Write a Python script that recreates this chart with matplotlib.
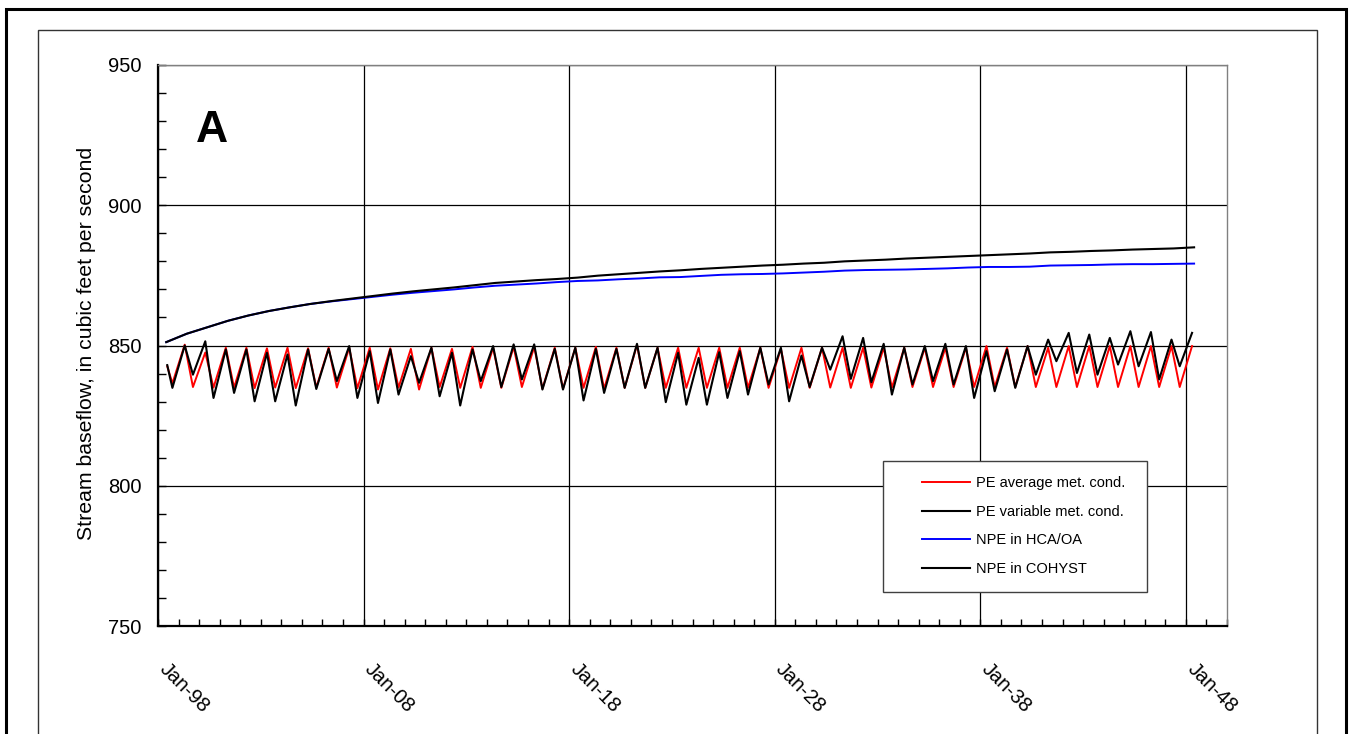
import numpy as np
import matplotlib
matplotlib.use("Agg")
import matplotlib.pyplot as plt
from matplotlib.patches import Rectangle
from matplotlib.ticker import MultipleLocator, FixedLocator
from matplotlib.transforms import ScaledTranslation

plt.rcParams['font.family'] = ['Liberation Sans', 'DejaVu Sans']

# ---- data ----
# pumping-effect series: one low (fall) and one high (spring) value per year
start_year = 1998.45
low_years = np.arange(1998, 2048) + 0.7
high_years = np.arange(1999, 2049) + 0.3

pe_avg_start = 842.6
pe_avg_low = [836.5, 835.2, 835.0, 835.0, 834.8, 835.0, 834.8, 835.0, 835.0, 834.8,
              834.3, 835.0, 834.3, 835.2, 834.9, 834.9, 834.9, 835.2, 834.6, 834.6,
              834.9, 834.6, 834.9, 834.9, 834.9, 834.9, 834.9, 834.9, 834.9, 834.9,
              834.9, 834.9, 835.0, 834.9, 835.0, 835.0, 835.2, 835.2, 835.2, 835.2,
              835.2, 835.2, 835.2, 835.2, 835.2, 835.2, 835.2, 835.2, 835.2, 835.2]
pe_avg_high = [850.3, 847.5, 849.2, 849.2, 849.0, 849.2, 849.0, 849.2, 849.2, 849.2,
               849.0, 848.8, 849.2, 848.8, 849.5, 849.2, 849.5, 849.5, 849.2, 849.2,
               849.5, 849.2, 850.2, 849.2, 849.2, 849.2, 849.2, 849.2, 849.2, 848.8,
               849.2, 849.2, 849.2, 849.2, 849.2, 849.2, 849.2, 849.2, 849.2, 849.8,
               849.2, 849.8, 849.2, 849.8, 849.8, 849.8, 849.8, 849.8, 849.8, 849.8]

pe_var_start = 843.0
pe_var_low = [834.9, 839.6, 831.3, 833.1, 830.1, 830.1, 828.6, 834.5, 837.3, 831.3,
              829.5, 832.5, 836.7, 831.9, 828.6, 837.3, 835.2, 837.9, 834.3, 834.3,
              830.4, 833.1, 834.9, 834.9, 829.8, 828.9, 828.9, 831.3, 832.5, 836.1,
              830.1, 835.2, 841.4, 838.1, 836.9, 832.5, 836.1, 837.3, 836.1, 831.3,
              833.7, 834.9, 839.6, 844.4, 840.2, 839.6, 843.2, 842.6, 837.9, 842.6]
pe_var_high = [850.0, 851.5, 848.6, 848.6, 847.4, 846.8, 848.6, 848.8, 849.8, 848.0,
               848.6, 846.2, 849.2, 847.4, 848.6, 849.8, 850.4, 850.4, 848.8, 849.2,
               848.8, 848.8, 850.6, 849.2, 847.4, 845.6, 847.6, 848.0, 849.2, 849.2,
               846.4, 849.2, 853.3, 852.7, 850.6, 849.2, 849.8, 850.6, 849.8, 848.0,
               848.6, 849.8, 852.1, 854.5, 853.9, 852.7, 855.1, 854.8, 852.1, 854.5]

# no-pumping-effect series, one value per year
npe_years = np.arange(1998, 2049) + 0.4
npe_hca = [851.2, 854.2, 856.5, 858.8, 860.7, 862.3, 863.6, 864.8, 865.7, 866.5,
           867.3, 868.1, 868.8, 869.4, 870.0, 870.7, 871.3, 871.7, 872.1, 872.6,
           873.0, 873.2, 873.6, 873.9, 874.3, 874.4, 874.8, 875.2, 875.4, 875.5,
           875.7, 876.0, 876.3, 876.7, 876.9, 877.0, 877.1, 877.3, 877.5, 877.8,
           878.0, 878.0, 878.1, 878.5, 878.6, 878.7, 878.9, 879.0, 879.0, 879.1,
           879.2]
npe_cohyst = [851.2, 854.2, 856.5, 858.8, 860.7, 862.3, 863.6, 864.8, 865.8, 866.7,
              867.6, 868.5, 869.3, 870.0, 870.7, 871.5, 872.3, 872.8, 873.3, 873.7,
              874.2, 874.9, 875.4, 875.9, 876.4, 876.8, 877.3, 877.7, 878.1, 878.5,
              878.8, 879.2, 879.5, 880.0, 880.3, 880.6, 881.0, 881.3, 881.6, 881.9,
              882.2, 882.5, 882.8, 883.2, 883.4, 883.7, 883.9, 884.2, 884.4, 884.6,
              885.0]

tick_years = [1998, 2008, 2018, 2028, 2038, 2048]
tick_labels = ['Jan-98', 'Jan-08', 'Jan-18', 'Jan-28', 'Jan-38', 'Jan-48']
series_labels = ['PE average met. cond.', 'PE variable met. cond.',
                 'NPE in HCA/OA', 'NPE in COHYST']


def seasonal(start_val, lows, highs):
    t = np.empty(1 + 2 * len(lows))
    v = np.empty_like(t)
    t[0], v[0] = start_year, start_val
    t[1::2], t[2::2] = low_years, high_years
    v[1::2], v[2::2] = lows, highs
    return t, v


W, H = 1352, 734
fig = plt.figure(figsize=(W / 100, H / 100), dpi=100)
ax = fig.add_axes([158 / W, 1 - 626 / H, (1227 - 158) / W, (626 - 65) / H])

t_avg, v_avg = seasonal(pe_avg_start, pe_avg_low, pe_avg_high)
t_var, v_var = seasonal(pe_var_start, pe_var_low, pe_var_high)

l1, = ax.plot(t_avg, v_avg, color='#ff0000', lw=1.4)
l2, = ax.plot(t_var, v_var, color='black', lw=1.5)
l3, = ax.plot(npe_years, npe_hca, color='#0000ff', lw=1.4)
l4, = ax.plot(npe_years, npe_cohyst, color='black', lw=1.5)

ax.set_xlim(1998, 2050)
ax.set_ylim(750, 950)
ax.xaxis.set_major_locator(FixedLocator(tick_years))
ax.xaxis.set_minor_locator(MultipleLocator(1))
ax.set_xticklabels(tick_labels)
ax.yaxis.set_major_locator(MultipleLocator(50))
ax.yaxis.set_minor_locator(MultipleLocator(10))

ax.set_axisbelow(True)
ax.grid(True, which='major', color='black', lw=0.9)

ax.tick_params(axis='both', which='both', direction='in', colors='black')
ax.tick_params(axis='y', which='both', length=6, width=1, labelsize=14.5, pad=12)
ax.tick_params(axis='x', which='minor', length=5, width=1)
ax.tick_params(axis='x', which='major', length=5, width=1, labelsize=14.5, pad=23)
shift = ScaledTranslation(11 / 100, -1 / 100, fig.dpi_scale_trans)
for lab in ax.get_xticklabels():
    lab.set_rotation(-45)
    lab.set_ha('left')
    lab.set_va('top')
    lab.set_rotation_mode('anchor')
    lab.set_transform(lab.get_transform() + shift)

for side in ['left', 'bottom']:
    ax.spines[side].set_color('black')
    ax.spines[side].set_linewidth(1.6)
for side in ['top', 'right']:
    ax.spines[side].set_color('#808080')
    ax.spines[side].set_linewidth(1.0)

fig.text(87 / W, 1 - 343 / H, 'Stream baseflow, in cubic feet per second',
         rotation=90, ha='center', va='center', fontsize=15.3)
fig.text(196 / W, 1 - 142 / H, 'A', fontsize=32, fontweight='bold', va='baseline')

# outer frames (run off the bottom of the image)
fig.add_artist(Rectangle((6 / W, -0.1), (1346 - 6) / W, 1.1 - 8.5 / H,
                         fill=False, ec='black', lw=2.2))
fig.add_artist(Rectangle((37.5 / W, -0.1), (1317 - 37.5) / W, 1.1 - 30 / H,
                         fill=False, ec='#333333', lw=1.0))

# legend box
fig.add_artist(Rectangle((883 / W, 1 - 592 / H), (1147 - 883) / W, (592 - 461) / H,
                         facecolor='white', ec='#404040', lw=1.0, zorder=5))
leg = fig.legend([l1, l2, l3, l4], series_labels, loc='upper left',
                 bbox_to_anchor=(915 / W, 1 - 469 / H), bbox_transform=fig.transFigure,
                 frameon=False, borderpad=0, handlelength=3.3, handletextpad=0.4,
                 labelspacing=1.0, fontsize=10.5)
leg.set_zorder(6)

fig.savefig('out.png', dpi=100)
